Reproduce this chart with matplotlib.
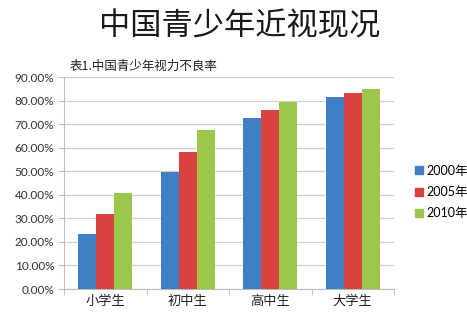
import matplotlib
matplotlib.use("Agg")
import matplotlib.pyplot as plt
import numpy as np
from matplotlib.patches import Rectangle

plt.rcParams['font.family'] = ['Lato', 'Noto Sans CJK SC', 'DejaVu Sans']

categories = ['小学生', '初中生', '高中生', '大学生']
series_names = ['2000年', '2005年', '2010年']
v2000 = [23.2, 49.8, 72.6, 81.6]
v2005 = [31.7, 58.1, 76.1, 83.0]
v2010 = [40.9, 67.3, 79.4, 85.1]
yticks = [0, 10, 20, 30, 40, 50, 60, 70, 80, 90]
title = '中国青少年近视现况'
subtitle = '表1.中国青少年视力不良率'

colors = ['#3f7fc6', '#d8433f', '#9dc64c']

fig = plt.figure(figsize=(4.67, 3.2), dpi=100)
fig.patch.set_facecolor('white')
ax = fig.add_axes([64/467, 1-289/320, 330/467, 212/320])

x = np.arange(len(categories))
w = 0.22
for i, vals in enumerate([v2000, v2005, v2010]):
    ax.bar(x + (i-1)*w, vals, width=w, color=colors[i], zorder=3, linewidth=0)

ax.set_xlim(-0.5, len(categories)-0.5)
ax.set_ylim(0, 90)
ax.set_yticks(yticks)
ax.set_yticklabels([f'{t:.2f}%' for t in yticks], fontsize=8.5, color='#333333')
ax.yaxis.grid(True, color='#d0d0d0', linewidth=0.9, zorder=0)
ax.set_xticks(x)
ax.set_xticklabels(categories, fontsize=9.5, color='#222222',
                   family=['Noto Sans CJK SC', 'DejaVu Sans'])
ax.tick_params(axis='x', length=0, pad=4)
ax.tick_params(axis='y', length=4, color='#bbbbbb', pad=3, direction='out')
ax.set_xticks(np.arange(-0.5, len(categories), 1.0), minor=True)
ax.tick_params(axis='x', which='minor', length=4, color='#bbbbbb')
for s in ['top', 'right']:
    ax.spines[s].set_visible(False)
ax.spines['left'].set_color('#bbbbbb')
ax.spines['bottom'].set_color('#bbbbbb')

fig.text(240/467, 1-26/320, title, fontsize=22.5, ha='center', va='center',
         family=['Noto Sans CJK SC', 'DejaVu Sans'], weight='light', color='#1a1a1a')
fig.text(70/467, 1-66/320, subtitle, fontsize=9, ha='left', va='center',
         family=['Noto Sans CJK SC', 'DejaVu Sans'], color='#222222')

handles = [Rectangle((0, 0), 1, 1, color=c) for c in colors]
leg = fig.legend(handles, series_names, loc='center left',
                 bbox_to_anchor=(404/467, 1-192/320), frameon=False,
                 handlelength=0.6, handleheight=0.6,
                 handletextpad=0.3, labelspacing=0.75,
                 prop={'family': ['Lato', 'Noto Sans CJK SC'], 'size': 9})

fig.savefig('out.png', dpi=100, facecolor='white')
